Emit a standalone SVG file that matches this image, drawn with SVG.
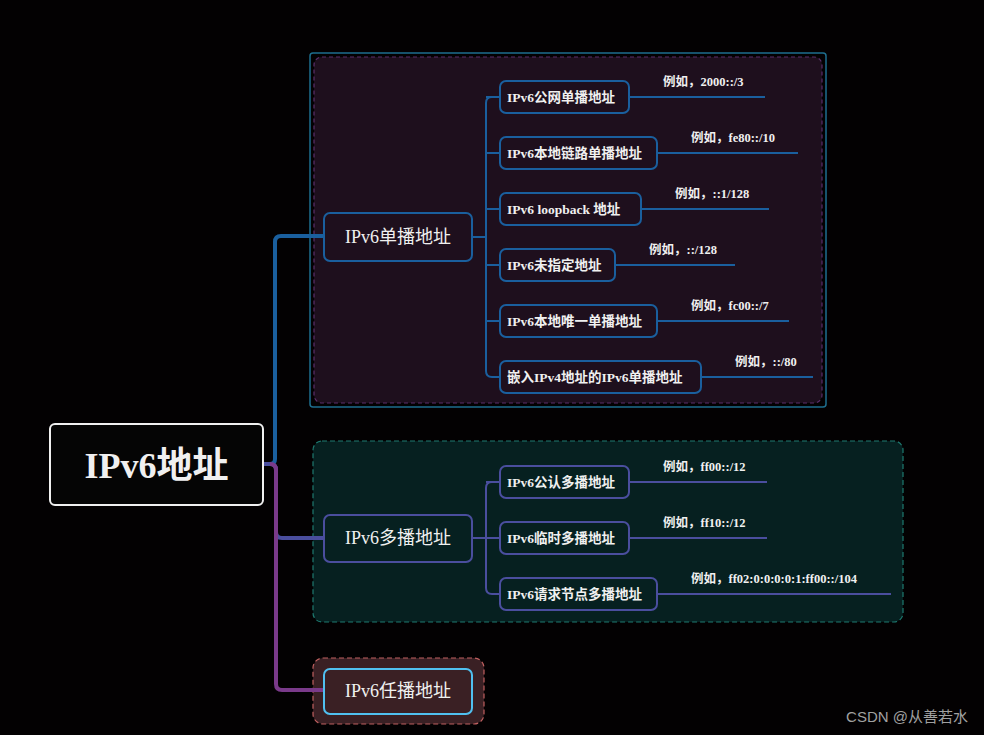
<svg xmlns="http://www.w3.org/2000/svg" width="984" height="735" viewBox="0 0 984 735">
<style>
text{font-family:"Liberation Serif","Noto Sans CJK SC",serif;fill:#f0f0f0}
.c{font-size:13.5px;font-weight:bold}
.e{font-size:12.5px;font-weight:bold}
.u{fill:#1e0f1d;stroke:#1a5f9e;stroke-width:2}
.m{fill:#062020;stroke:#4a4e9e;stroke-width:2}
.lu{stroke:#1a5f9e;stroke-width:2;fill:none}
.lm{stroke:#4a4e9e;stroke-width:2;fill:none}
</style>
<rect width="984" height="735" fill="#030102"/>
<rect x="310" y="53" width="516" height="354" rx="3" fill="none" stroke="#1e6e8e" stroke-width="1.5"/>
<rect x="314" y="57" width="508" height="346" rx="8" fill="#1e0f1d" stroke="#5a2e6a" stroke-width="1.2" stroke-dasharray="4 3"/>
<rect x="313" y="441" width="590" height="181" rx="9" fill="#062020" stroke="#1e7a70" stroke-width="1.2" stroke-dasharray="5 3"/>
<rect x="313" y="658" width="171" height="66" rx="10" fill="#3a2024" stroke="#c06060" stroke-width="1.2" stroke-dasharray="5 3"/>
<g id="connectors">
<path d="M263 464 H270 Q275 464 275 459 V242 Q275 236 281 236 H324" stroke="#1a5f9e" stroke-width="4" fill="none"/>
<path d="M263 464 H270 Q276 464 276 470 V532 Q276 538 282 538 H324" stroke="#4a4e9e" stroke-width="4" fill="none"/>
<path d="M270 464 Q276 464 276 470 V684 Q276 690 282 690 H324" stroke="#7a3a8a" stroke-width="4" fill="none"/>
<path class="lu" d="M472 237 H486 M492 97 Q486 97 486 103 V371 Q486 377 492 377 H500 M486 97 H500 M486 153 H500 M486 209 H500 M486 265 H500 M486 321 H500"/>
<path class="lu" d="M629 97 H765 M657 153 H798 M641 209 H769 M615 265 H735 M657 321 H789 M701 377 H813"/>
<path class="lm" d="M472 538 H500 M492 482 Q486 482 486 488 V588 Q486 594 492 594 H500 M486 482 H500"/>
<path class="lm" d="M629 482 H767 M629 538 H767 M657 594 H891"/>
</g>
<g id="root"><rect x="50" y="424" width="213" height="81" rx="5" fill="#050505" stroke="#f0f0f0" stroke-width="2"/><text x="156.5" y="478" text-anchor="middle" font-size="36" font-weight="bold">IPv6地址</text></g>
<g id="unicast"><rect class="u" x="324" y="213" width="148" height="48" rx="6"/><text x="398" y="243" text-anchor="middle" font-size="18">IPv6单播地址</text></g>
<g id="u1"><rect class="u" x="500" y="81" width="129" height="32" rx="6"/><text class="c" x="507" y="102">IPv6公网单播地址</text><text class="e" x="663" y="86">例如，2000::/3</text></g>
<g id="u2"><rect class="u" x="500" y="137" width="157" height="32" rx="6"/><text class="c" x="507" y="158">IPv6本地链路单播地址</text><text class="e" x="691" y="142">例如，fe80::/10</text></g>
<g id="u3"><rect class="u" x="500" y="193" width="141" height="32" rx="6"/><text class="c" x="507" y="214">IPv6 loopback 地址</text><text class="e" x="675" y="198">例如，::1/128</text></g>
<g id="u4"><rect class="u" x="500" y="249" width="115" height="32" rx="6"/><text class="c" x="507" y="270">IPv6未指定地址</text><text class="e" x="649" y="254">例如，::/128</text></g>
<g id="u5"><rect class="u" x="500" y="305" width="157" height="32" rx="6"/><text class="c" x="507" y="326">IPv6本地唯一单播地址</text><text class="e" x="691" y="310">例如，fc00::/7</text></g>
<g id="u6"><rect class="u" x="500" y="361" width="201" height="32" rx="6"/><text class="c" x="507" y="382">嵌入IPv4地址的IPv6单播地址</text><text class="e" x="735" y="366">例如，::/80</text></g>
<g id="multicast"><rect class="m" x="324" y="515" width="148" height="47" rx="6"/><text x="398" y="544" text-anchor="middle" font-size="18">IPv6多播地址</text></g>
<g id="m1"><rect class="m" x="500" y="466" width="129" height="32" rx="6"/><text class="c" x="507" y="487">IPv6公认多播地址</text><text class="e" x="663" y="471">例如，ff00::/12</text></g>
<g id="m2"><rect class="m" x="500" y="522" width="129" height="32" rx="6"/><text class="c" x="507" y="543">IPv6临时多播地址</text><text class="e" x="663" y="527">例如，ff10::/12</text></g>
<g id="m3"><rect class="m" x="500" y="578" width="157" height="32" rx="6"/><text class="c" x="507" y="599">IPv6请求节点多播地址</text><text class="e" x="691" y="583">例如，ff02:0:0:0:0:1:ff00::/104</text></g>
<g id="anycast"><rect x="324" y="669" width="148" height="45" rx="6" fill="#3a2024" stroke="#50c0f0" stroke-width="2"/><text x="398" y="697" text-anchor="middle" font-size="18">IPv6任播地址</text></g>
<text x="968" y="722" text-anchor="end" font-size="15" style="font-family:'Liberation Sans','Noto Sans CJK SC',sans-serif;fill:#a0a0a0">CSDN @从善若水</text>
</svg>
